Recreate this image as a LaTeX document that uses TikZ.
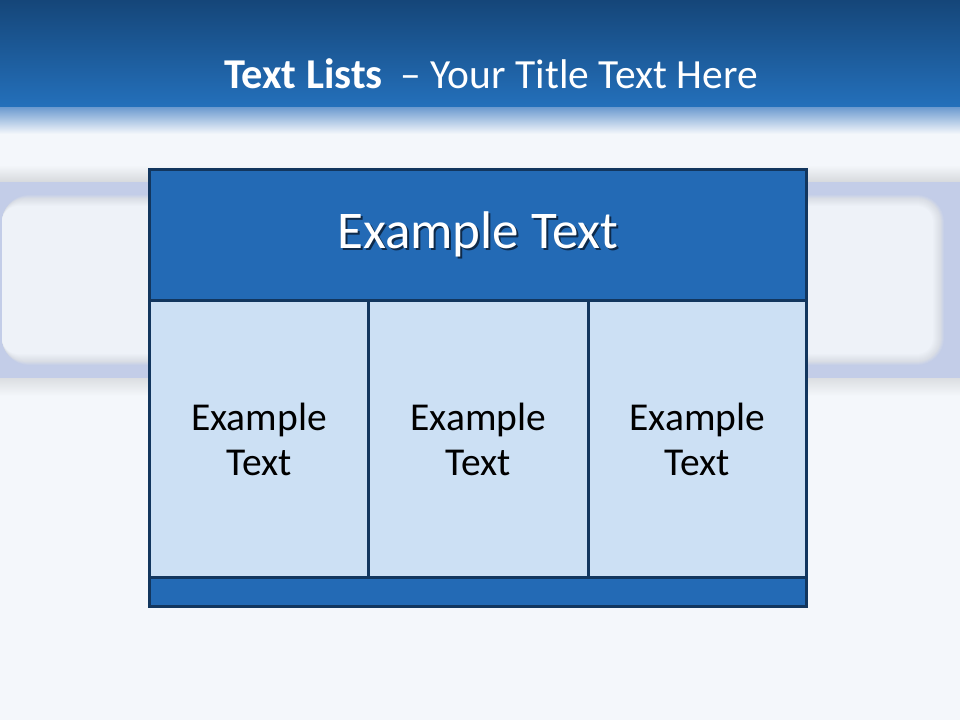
\documentclass[tikz,border=0pt]{standalone}
\usepackage{fontspec}
\setmainfont{Carlito}
\definecolor{navy}{HTML}{12365E}
\definecolor{headblue}{HTML}{236AB5}
\definecolor{cellblue}{HTML}{CCE0F4}
\definecolor{pagebg}{HTML}{F4F7FB}
\definecolor{lav}{HTML}{C3CDE8}
\definecolor{gry}{HTML}{D9DDE5}
\definecolor{panel}{HTML}{EEF2F8}
\definecolor{topdark}{HTML}{154679}
\definecolor{topmid}{HTML}{2470BB}
\definecolor{shadowc}{HTML}{0E2A4A}
\begin{document}
\begin{tikzpicture}[x=1pt,y=-1pt,
  frame/.style={draw=navy, line width=3pt, inner sep=0pt, outer sep=0pt},
  headbox/.style={frame, fill=headblue, minimum width=657pt, minimum height=131pt,
     font=\fontsize{53}{60}\selectfont, text=white},
  cellbox/.style={frame, fill=cellblue, minimum height=277pt,
     align=center, font=\fontsize{39.5}{45}\selectfont, text=black},
  footbox/.style={frame, fill=headblue, minimum width=657pt, minimum height=29pt},
  titletext/.style={font=\fontsize{41.5}{48}\selectfont, text=white, inner sep=0pt}]
\useasboundingbox (0,0) rectangle (960,720);
% page background
\fill[pagebg] (0,0) rectangle (960,720);
% top title band
\shade[top color=topdark, bottom color=topmid] (0,0) rectangle (960,107);
\shade[top color=topmid!55!lav, bottom color=pagebg] (0,107) rectangle (960,134);
\fill[pagebg] (0,134) rectangle (960,165);
\shade[top color=pagebg, bottom color=black!12!pagebg] (0,165) rectangle (960,182);
% lavender band with blurred rounded panel
\fill[lav] (0,182) rectangle (960,378);
\foreach \i in {0,...,4}{
  \pgfmathsetmacro{\p}{\i*25}
  \pgfmathsetmacro{\r}{28-\i}
  \colorlet{tmpc}{gry!\p!lav}
  \fill[tmpc, rounded corners=\r pt] (2,194+\i) rectangle (945-\i,366-\i);
}
\foreach \i in {1,...,8}{
  \pgfmathsetmacro{\p}{\i*12.5}
  \pgfmathsetmacro{\r}{24-\i}
  \colorlet{tmpc}{panel!\p!gry}
  \fill[tmpc, rounded corners=\r pt] (2,198+\i) rectangle (941-\i,362-\i);
}
\shade[top color=black!10!pagebg, bottom color=pagebg] (0,378) rectangle (960,396);
% title
\node[titletext, anchor=base] (title) at (491,88)
  {{\fontsize{42.5}{48}\selectfont\bfseries Text Lists}\hspace{18pt}– Your Title Text Here};
% table
\node[headbox] (head) at (478,235)
  {\rlap{\raisebox{-2pt}{\hspace{2pt}\color{shadowc}Example Text}}Example Text};
\node[cellbox, minimum width=219pt] (c1) at (259,439) {Example\\Text};
\node[cellbox, minimum width=220pt] (c2) at (478.5,439) {Example\\Text};
\node[cellbox, minimum width=218pt] (c3) at (697.5,439) {Example\\Text};
\node[footbox] (foot) at (478,592) {};
\end{tikzpicture}
\end{document}
